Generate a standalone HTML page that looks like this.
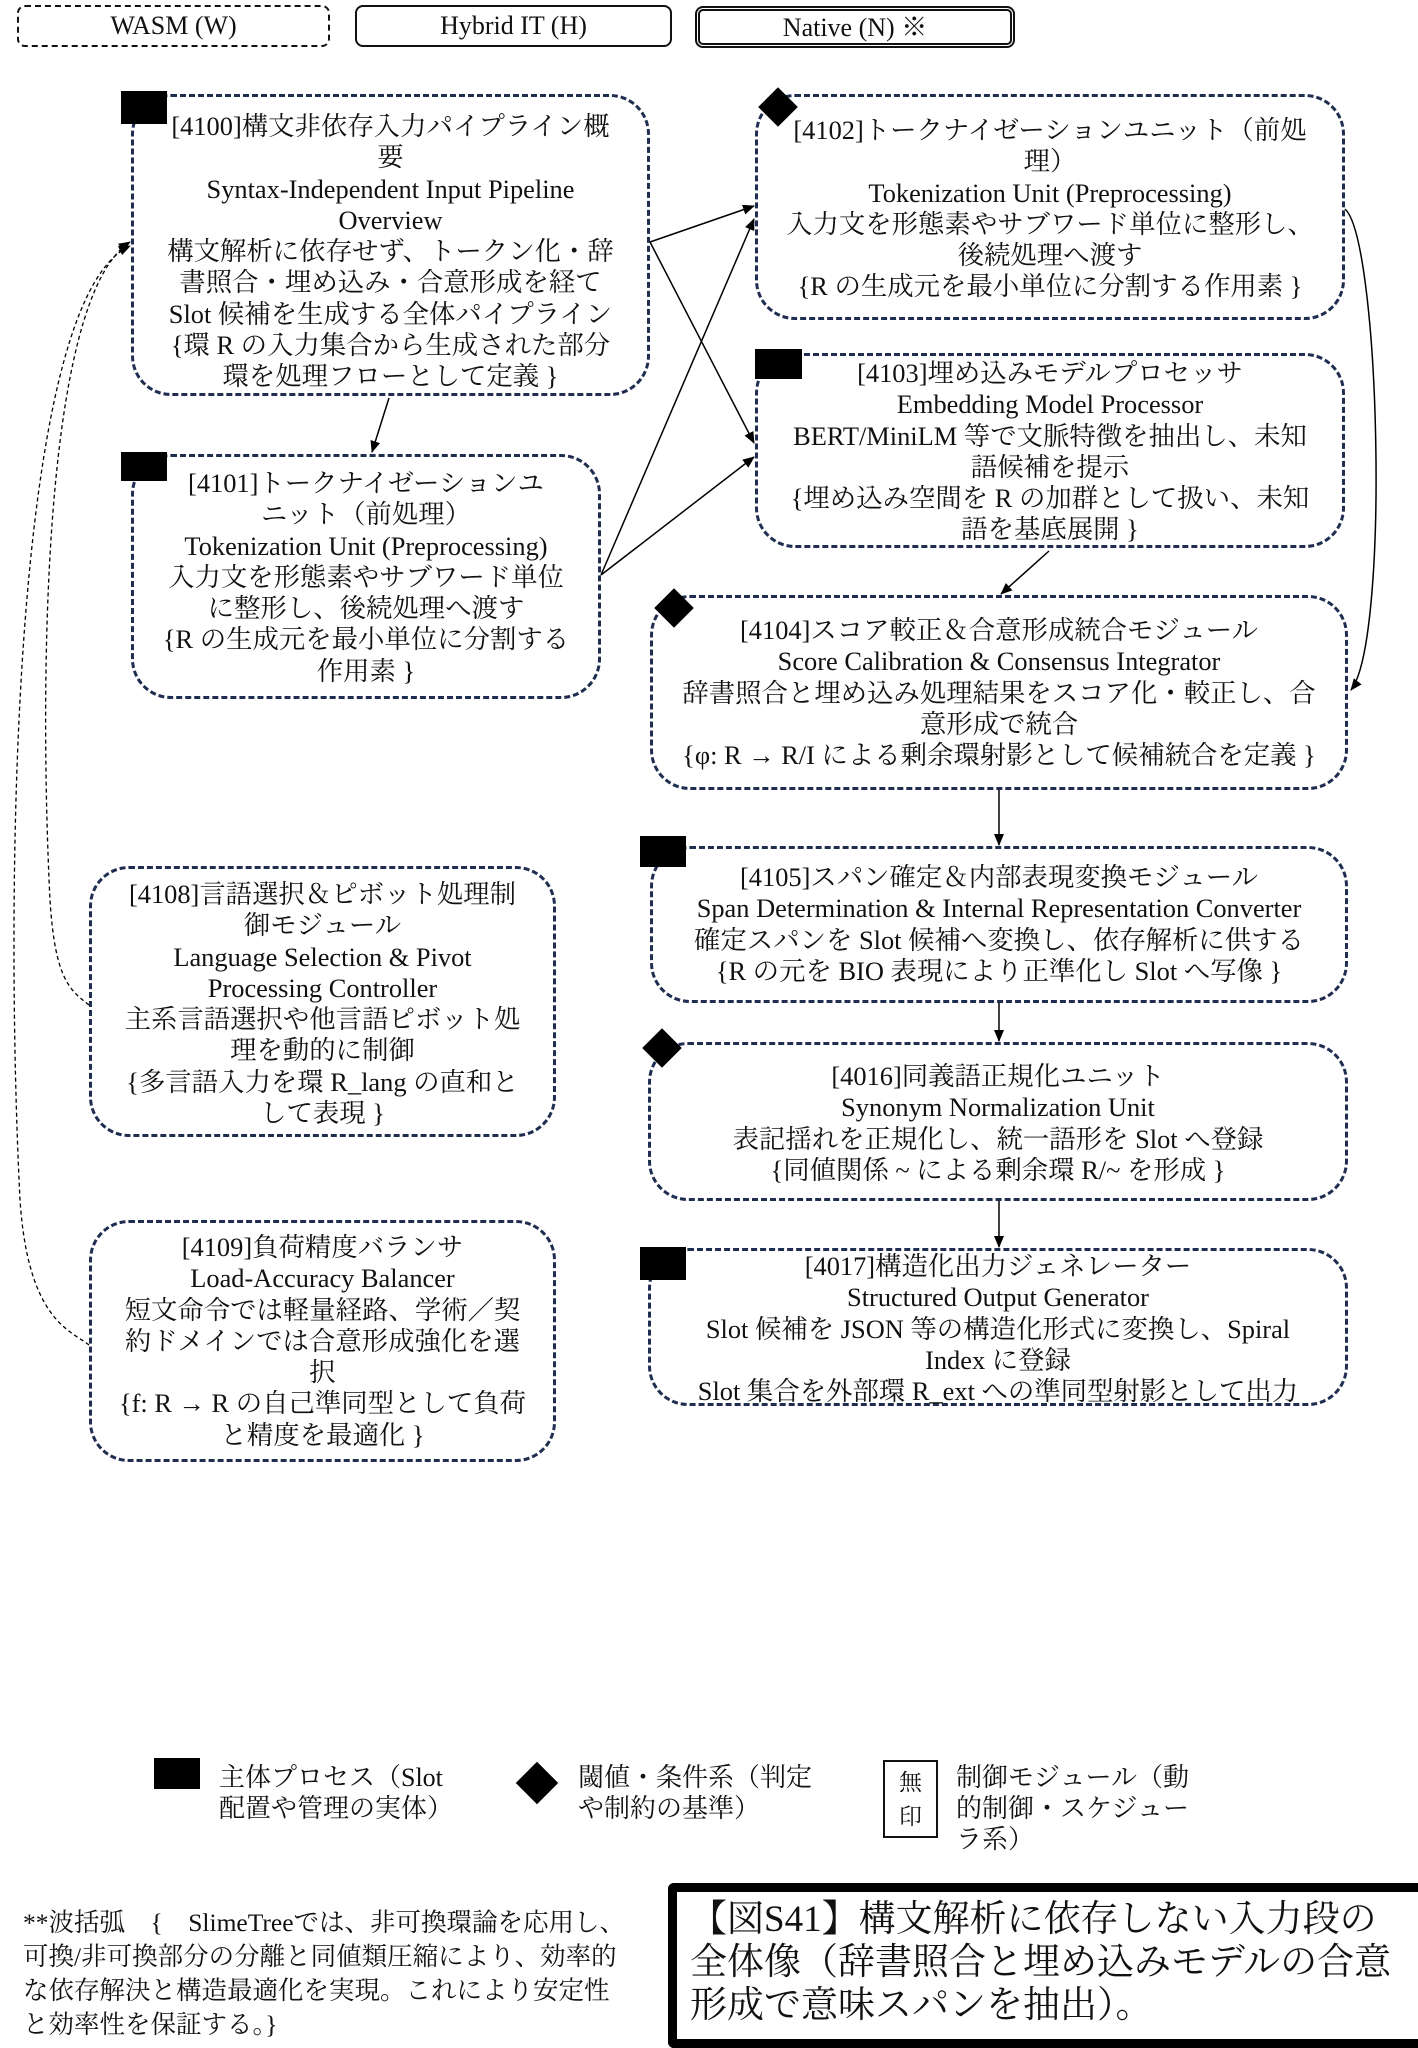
<!DOCTYPE html>
<html><head><meta charset="utf-8">
<style>
html,body{margin:0;padding:0;background:#fff;}
body{width:1418px;height:2048px;position:relative;overflow:hidden;font-family:"Liberation Serif","Noto Serif CJK JP","Noto Serif CJK SC",serif;color:#111;}
.b{position:absolute;box-sizing:border-box;text-align:center;font-size:26px;line-height:31px;white-space:nowrap;}
.n{position:absolute;box-sizing:border-box;border:3px dashed #1f2d50;border-radius:40px;text-align:center;font-size:26.4px;line-height:31.3px;white-space:nowrap;}
.sq{position:absolute;background:#000;}
.dm{position:absolute;width:28px;height:28px;background:#000;transform:rotate(45deg);}
.t{position:absolute;white-space:nowrap;}
</style></head><body>
<div class="b" style="left:17px;top:5px;width:313px;height:42px;border:2px dashed #111;border-radius:8px;line-height:38px;">WASM (W)</div>
<div class="b" style="left:355px;top:5px;width:317px;height:42px;border:2px solid #111;border-radius:8px;line-height:38px;">Hybrid IT (H)</div>
<div class="b" style="left:695px;top:6px;width:320px;height:42px;border:5px double #111;border-radius:8px;line-height:33px;">Native (N) ※</div>

<svg width="1418" height="2048" style="position:absolute;left:0;top:0" xmlns="http://www.w3.org/2000/svg">
<defs><marker id="a" markerWidth="12" markerHeight="10" refX="11" refY="5" orient="auto" markerUnits="userSpaceOnUse"><path d="M0,0 L12,5 L0,10z" fill="#000"/></marker></defs>
<g stroke="#000" stroke-width="1.5" fill="none" marker-end="url(#a)">
<line x1="389" y1="398" x2="372" y2="452"/>
<line x1="650" y1="242" x2="754" y2="206"/>
<line x1="650" y1="242" x2="754" y2="443"/>
<line x1="601" y1="575" x2="754" y2="219"/>
<line x1="601" y1="575" x2="754" y2="457"/>
<path d="M1345,209 C1380,240 1390,640 1351,690"/>
<line x1="1049" y1="551" x2="1001" y2="594"/>
<line x1="999" y1="790" x2="999" y2="845"/>
<line x1="999" y1="1003" x2="999" y2="1041"/>
<line x1="999" y1="1201" x2="999" y2="1247"/>
</g>
<g stroke="#000" stroke-width="1.3" fill="none" stroke-dasharray="4,3" marker-end="url(#a)">
<path d="M89,1005 C70,990 55,980 50,900 C40,700 40,300 130,242"/>
<path d="M89,1345 C70,1330 28,1320 20,1200 C5,900 10,300 130,246"/>
</g>
</svg>

<div class="n" style="left:131px;top:94px;width:519px;height:302px;padding-top:14px;">[4100]構文非依存入力パイプライン概<br>要<br>Syntax-Independent Input Pipeline<br>Overview<br>構文解析に依存せず、トークン化・辞<br>書照合・埋め込み・合意形成を経て<br>Slot 候補を生成する全体パイプライン<br>{環 R の入力集合から生成された部分<br>環を処理フローとして定義 }</div>
<div class="sq" style="left:121px;top:91px;width:46px;height:33px;"></div>

<div class="n" style="left:755px;top:94px;width:590px;height:226px;padding-top:18px;">[4102]トークナイゼーションユニット（前処<br>理）<br>Tokenization Unit (Preprocessing)<br>入力文を形態素やサブワード単位に整形し、<br>後続処理へ渡す<br>{R の生成元を最小単位に分割する作用素 }</div>
<div class="dm" style="left:764px;top:93px;"></div>

<div class="n" style="left:755px;top:353px;width:590px;height:195px;padding-top:2px;">[4103]埋め込みモデルプロセッサ<br>Embedding Model Processor<br>BERT/MiniLM 等で文脈特徴を抽出し、未知<br>語候補を提示<br>{埋め込み空間を R の加群として扱い、未知<br>語を基底展開 }</div>
<div class="sq" style="left:755px;top:349px;width:47px;height:30px;"></div>

<div class="n" style="left:131px;top:454px;width:470px;height:245px;padding-top:11px;">[4101]トークナイゼーションユ<br>ニット（前処理）<br>Tokenization Unit (Preprocessing)<br>入力文を形態素やサブワード単位<br>に整形し、後続処理へ渡す<br>{R の生成元を最小単位に分割する<br>作用素 }</div>
<div class="sq" style="left:121px;top:452px;width:46px;height:29px;"></div>

<div class="n" style="left:650px;top:595px;width:698px;height:195px;padding-top:17px;">[4104]スコア較正＆合意形成統合モジュール<br>Score Calibration &amp; Consensus Integrator<br>辞書照合と埋め込み処理結果をスコア化・較正し、合<br>意形成で統合<br>{φ: R → R/I による剰余環射影として候補統合を定義 }</div>
<div class="dm" style="left:660px;top:594px;"></div>

<div class="n" style="left:650px;top:846px;width:698px;height:157px;padding-top:13px;">[4105]スパン確定＆内部表現変換モジュール<br>Span Determination &amp; Internal Representation Converter<br>確定スパンを Slot 候補へ変換し、依存解析に供する<br>{R の元を BIO 表現により正準化し Slot へ写像 }</div>
<div class="sq" style="left:640px;top:836px;width:46px;height:31px;"></div>

<div class="n" style="left:648px;top:1042px;width:700px;height:159px;padding-top:16px;">[4016]同義語正規化ユニット<br>Synonym Normalization Unit<br>表記揺れを正規化し、統一語形を Slot へ登録<br>{同値関係 ~ による剰余環 R/~ を形成 }</div>
<div class="dm" style="left:648px;top:1034px;"></div>

<div class="n" style="left:648px;top:1248px;width:700px;height:158px;padding-top:0px;">[4017]構造化出力ジェネレーター<br>Structured Output Generator<br>Slot 候補を JSON 等の構造化形式に変換し、Spiral<br>Index に登録<br>Slot 集合を外部環 R_ext への準同型射影として出力</div>
<div class="sq" style="left:640px;top:1247px;width:46px;height:33px;"></div>

<div class="n" style="left:89px;top:866px;width:467px;height:271px;padding-top:10px;">[4108]言語選択＆ピボット処理制<br>御モジュール<br>Language Selection &amp; Pivot<br>Processing Controller<br>主系言語選択や他言語ピボット処<br>理を動的に制御<br>{多言語入力を環 R_lang の直和と<br>して表現 }</div>

<div class="n" style="left:89px;top:1220px;width:467px;height:242px;padding-top:9px;">[4109]負荷精度バランサ<br>Load-Accuracy Balancer<br>短文命令では軽量経路、学術／契<br>約ドメインでは合意形成強化を選<br>択<br>{f: R → R の自己準同型として負荷<br>と精度を最適化 }</div>

<div class="sq" style="left:154px;top:1758px;width:46px;height:31px;"></div>
<div class="t" style="left:219px;top:1762px;font-size:26px;line-height:31px;">主体プロセス（Slot<br>配置や管理の実体）</div>
<div class="dm" style="left:522px;top:1768px;width:30px;height:30px;"></div>
<div class="t" style="left:578px;top:1762px;font-size:26px;line-height:31px;">閾値・条件系（判定<br>や制約の基準）</div>
<div class="b" style="left:883px;top:1760px;width:55px;height:78px;border:2px solid #111;font-size:23px;line-height:34px;padding-top:4px;">無<br>印</div>
<div class="t" style="left:956px;top:1762px;font-size:26px;line-height:31px;">制御モジュール（動<br>的制御・スケジュー<br>ラ系）</div>

<div class="t" style="left:23px;top:1906px;font-size:25.5px;line-height:34px;">**波括弧　{　SlimeTreeでは、非可換環論を応用し、<br>可換/非可換部分の分離と同値類圧縮により、効率的<br>な依存解決と構造最適化を実現。これにより安定性<br>と効率性を保証する。}</div>

<div style="position:absolute;left:668px;top:1883px;width:750px;height:165px;box-sizing:border-box;border:9px solid #000;border-right:none;border-radius:6px 0 0 6px;"></div>
<div class="t" style="left:690px;top:1898px;font-size:37px;line-height:43px;">【図S41】構文解析に依存しない入力段の<br>全体像（辞書照合と埋め込みモデルの合意<br>形成で意味スパンを抽出）。</div>
</body></html>
